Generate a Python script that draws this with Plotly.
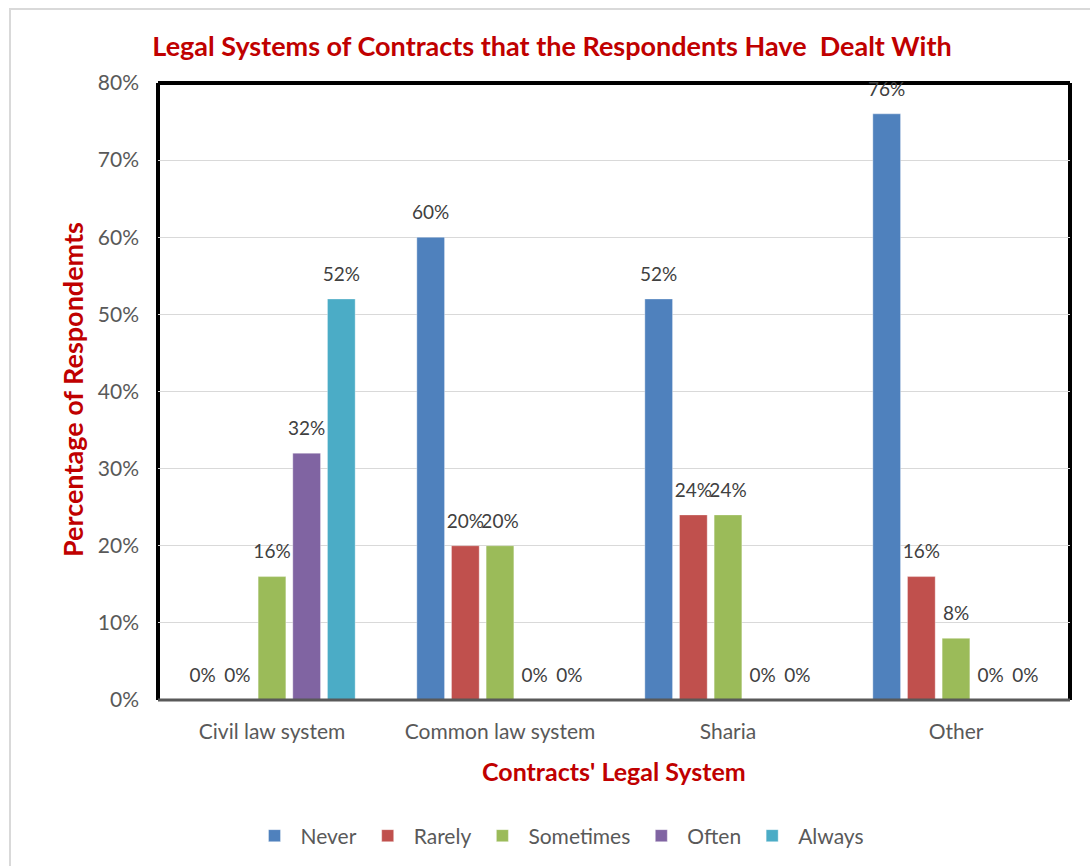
import plotly.graph_objects as go

# Survey results: share of respondents by legal system and frequency
categories = ["Civil law system", "Common law system", "Sharia", "Other"]
never = [0.00, 0.60, 0.52, 0.76]
rarely = [0.00, 0.20, 0.24, 0.16]
sometimes = [0.16, 0.20, 0.24, 0.08]
often = [0.32, 0.00, 0.00, 0.00]
always = [0.52, 0.00, 0.00, 0.00]

series_names = ["Never", "Rarely", "Sometimes", "Often", "Always"]
series_values = [never, rarely, sometimes, often, always]
series_colors = ["#4F81BD", "#C0504D", "#9BBB59", "#8064A2", "#4BACC6"]

y_ticks = [0, 0.1, 0.2, 0.3, 0.4, 0.5, 0.6, 0.7, 0.8]

FONT = "Lato"
RED = "#C00000"
GREY_TEXT = "#595959"
BAR_GAP = 0.24

W, H = 1090, 866
L, R, T, B = 158, 20, 83, 166
pw, ph = W - L - R, H - T - B


def px_x(x):
    return (x - L) / pw


def px_y(y):
    return (H - B - y) / ph


fig = go.Figure()
for i, (name, vals, color) in enumerate(zip(series_names, series_values, series_colors)):
    fig.add_trace(go.Bar(
        name=name,
        x=categories,
        y=vals,
        offsetgroup=str(i),
        marker=dict(color=color, line=dict(color="rgba(255,255,255,0.35)", width=1)),
    ))

# value labels, dodged the same way as the bars
for i, (name, vals) in enumerate(zip(series_names, series_values)):
    fig.add_trace(go.Scatter(
        x=categories,
        y=vals,
        offsetgroup=str(i),
        mode="markers+text",
        marker=dict(size=20, color="rgba(0,0,0,0)"),
        text=[f"{v:.0%}" for v in vals],
        textposition="top center",
        textfont=dict(family=FONT, size=19, color="#404040"),
        cliponaxis=False,
        showlegend=False,
        hoverinfo="skip",
    ))

shapes = [
    # outer chart frame
    dict(type="rect", xref="paper", yref="paper",
         x0=px_x(10), x1=px_x(1100), y0=px_y(880), y1=px_y(9),
         line=dict(color="#D9D9D9", width=2), layer="below"),
    # plot frame: left, top, right in black
    dict(type="line", xref="paper", yref="paper", x0=0, x1=0, y0=0, y1=1,
         line=dict(color="black", width=4), layer="below"),
    dict(type="line", xref="paper", yref="paper", x0=0, x1=1, y0=1, y1=1,
         line=dict(color="black", width=4), layer="below"),
    dict(type="line", xref="paper", yref="paper", x0=1, x1=1, y0=0, y1=1,
         line=dict(color="black", width=4), layer="below"),
    # category axis baseline
    dict(type="line", xref="paper", yref="paper", x0=0, x1=1, y0=0, y1=0,
         line=dict(color="#595959", width=3)),
]

annotations = [
    dict(text="<b>Percentage of Respondemts</b>", xref="paper", yref="paper",
         x=px_x(72), y=px_y(390), textangle=-90, showarrow=False,
         xanchor="center", yanchor="middle",
         font=dict(family=FONT, size=27, color=RED)),
    dict(text="<b>Contracts' Legal System</b>", xref="paper", yref="paper",
         x=px_x(614), y=px_y(771), showarrow=False,
         xanchor="center", yanchor="middle",
         font=dict(family=FONT, size=25, color=RED)),
]

fig.update_layout(
    width=W, height=H,
    margin=dict(l=L, r=R, t=T, b=B, autoexpand=False),
    paper_bgcolor="white", plot_bgcolor="white",
    barmode="group", bargap=BAR_GAP, bargroupgap=0.2,
    scattermode="group", scattergap=BAR_GAP,
    title=dict(text="<b>Legal Systems of Contracts that the Respondents Have  Dealt With</b>",
               x=552 / W, xanchor="center", y=1 - 47 / H, yanchor="middle",
               font=dict(family=FONT, size=27, color=RED)),
    xaxis=dict(showgrid=False, showline=False, zeroline=False,
               tickfont=dict(family=FONT, size=21, color=GREY_TEXT),
               ticklabelstandoff=17),
    yaxis=dict(range=[0, 0.8], tickvals=y_ticks, tickformat=".0%",
               showgrid=True, gridcolor="#D9D9D9", gridwidth=1,
               zeroline=False, showline=False,
               tickfont=dict(family=FONT, size=21, color=GREY_TEXT),
               ticklabelstandoff=18),
    legend=dict(orientation="h", x=px_x(559), xanchor="center",
                y=px_y(836), yanchor="middle",
                font=dict(family=FONT, size=21, color=GREY_TEXT),
                itemwidth=42, traceorder="normal"),
    shapes=shapes,
    annotations=annotations,
    showlegend=True,
)

fig.write_html("out.html")
